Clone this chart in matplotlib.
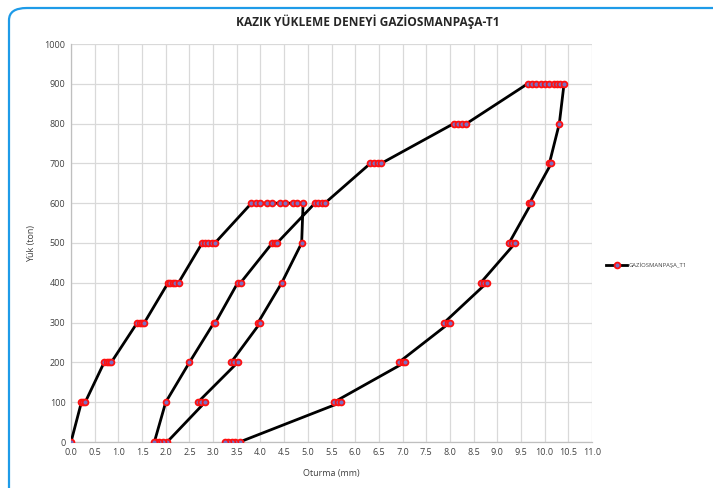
import matplotlib
matplotlib.use("Agg")
import matplotlib.pyplot as plt
from matplotlib.patches import FancyBboxPatch
import numpy as np

plt.rcParams['font.family'] = ['Open Sans', 'DejaVu Sans']

# Settlement (mm) and load (ton), in test order
oturma = [0.00,
          0.22, 0.26, 0.30,
          0.70, 0.75, 0.80, 0.85,
          1.40, 1.45, 1.50, 1.55,
          2.05, 2.10, 2.15, 2.20, 2.27,
          2.77, 2.83, 2.90, 2.97, 3.04,
          3.81, 3.90, 3.99, 4.13, 4.25, 4.41, 4.51, 4.68, 4.77, 4.90,
          4.87,
          4.45,
          3.95, 4.00,
          3.38, 3.45, 3.52,
          2.68, 2.75, 2.83,
          2.03, 1.94, 1.86, 1.80, 1.76,
          2.00,
          2.50,
          3.02, 3.05,
          3.52, 3.58,
          4.25, 4.30, 4.35,
          5.15, 5.22, 5.29, 5.36,
          6.32, 6.40, 6.48, 6.55,
          8.08, 8.17, 8.26, 8.35,
          9.64, 9.73, 9.82, 9.92, 10.01, 10.10, 10.19, 10.26, 10.33, 10.41,
          10.31,
          10.10, 10.14,
          9.68, 9.72,
          9.25, 9.32, 9.38,
          8.65, 8.72, 8.78,
          7.88, 7.95, 8.00,
          6.92, 7.00, 7.05,
          5.55, 5.63, 5.71,
          3.56, 3.46, 3.39, 3.32, 3.25]
yuk = [0,
       100, 100, 100,
       200, 200, 200, 200,
       300, 300, 300, 300,
       400, 400, 400, 400, 400,
       500, 500, 500, 500, 500,
       600, 600, 600, 600, 600, 600, 600, 600, 600, 600,
       500,
       400,
       300, 300,
       200, 200, 200,
       100, 100, 100,
       0, 0, 0, 0, 0,
       100,
       200,
       300, 300,
       400, 400,
       500, 500, 500,
       600, 600, 600, 600,
       700, 700, 700, 700,
       800, 800, 800, 800,
       900, 900, 900, 900, 900, 900, 900, 900, 900, 900,
       800,
       700, 700,
       600, 600,
       500, 500, 500,
       400, 400, 400,
       300, 300, 300,
       200, 200, 200,
       100, 100, 100,
       0, 0, 0, 0, 0]

x_ticks = np.arange(0, 11.01, 0.5)
x_ticklabels = [f"{v:.1f}" for v in x_ticks]
y_ticks = np.arange(0, 1001, 100)

title = "KAZIK YÜKLEME DENEYİ GAZİOSMANPAŞA-T1"
series_name = "GAZİOSMANPAŞA_T1"

W, H = 713, 488
fig = plt.figure(figsize=(W / 100, H / 100), dpi=100, facecolor='white')

ax = fig.add_axes([71 / W, (H - 442) / H, (592 - 71) / W, (442 - 44) / H])
ax.set_facecolor('none')
ax.plot(oturma, yuk, color='black', linewidth=2, marker='o', markersize=4.2,
        markerfacecolor='#7B6FC0', markeredgecolor='#FF1010', markeredgewidth=1.3,
        label=series_name, zorder=3)

ax.set_xlim(0, 11)
ax.set_ylim(0, 1000)
ax.set_xticks(x_ticks)
ax.set_xticklabels(x_ticklabels)
ax.set_yticks(y_ticks)
ax.grid(True, color='#D9D9D9', linewidth=0.9)
ax.set_axisbelow(True)
for s in ['top', 'right']:
    ax.spines[s].set_visible(False)
for s in ['left', 'bottom']:
    ax.spines[s].set_color('#BFBFBF')
    ax.spines[s].set_linewidth(0.9)
ax.tick_params(axis='both', length=0, labelsize=6.5, colors='#404040', pad=4)

ax.set_xlabel("Oturma (mm)", fontsize=6.5, color='#404040', labelpad=9)
ax.set_ylabel("Yük (ton)", fontsize=6.5, color='#404040', labelpad=6)

fig.text(368 / W, 1 - 22 / H, title, ha='center', va='center',
         fontsize=8.6, fontweight='bold', color='#262626')

fig.legend(handles=ax.get_lines(), labels=[series_name],
           loc='center left', bbox_to_anchor=(606 / W, 1 - 265 / H),
           bbox_transform=fig.transFigure, frameon=False,
           fontsize=4.2, handlelength=3.6, handletextpad=0.2,
           borderpad=0, borderaxespad=0, labelcolor='#404040')

# rounded chart frame (drawn on top, no fill)
frame = FancyBboxPatch((9 / W, -20 / H), (W + 20 - 9) / W, (H - 8 + 20) / H,
                       boxstyle="round,pad=0,rounding_size=0.025",
                       transform=fig.transFigure, facecolor='none',
                       edgecolor='#1E9BE8', linewidth=1.6, zorder=10)
fig.patches.append(frame)

fig.savefig("out.png", dpi=100)
